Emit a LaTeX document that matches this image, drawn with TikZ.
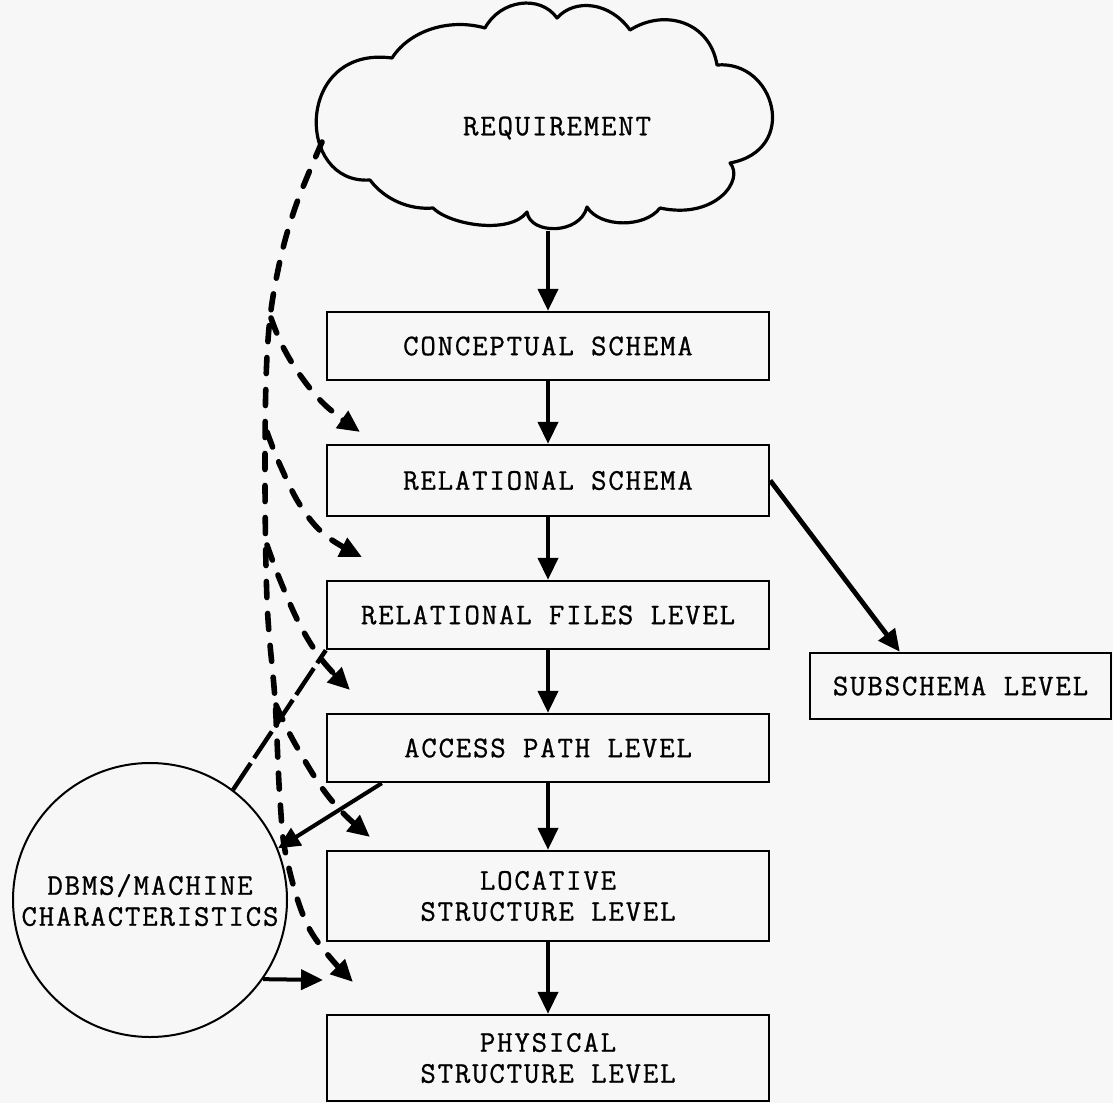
\documentclass[tikz,border=0pt]{standalone}
\usepackage{fontspec}
\newfontfamily\tw{Latin Modern Mono}[LetterSpace=6,FakeBold=0.8]
\usetikzlibrary{arrows.meta,calc}
\begin{document}
\begin{tikzpicture}[x=0.5pt,y=-0.5pt,
  txt/.style={font={\tw\fontsize{15pt}{15.5pt}\selectfont}},
  box/.style={txt,draw,line width=1.2pt,minimum width=221pt,inner sep=0pt,align=center},
  thk/.style={line width=2pt,-{Triangle[length=11pt,width=10pt]}},
  dsh/.style={line width=2.8pt,line cap=round,dash pattern=on 8pt off 8pt,-{Triangle[length=11pt,width=10pt]}},
]
\useasboundingbox (0,0) rectangle (1113,1103);
\fill[black!3] (0,0) rectangle (1113,1103);

% cloud
\draw[line width=1.6pt,line join=round]
 (392,58) .. controls (410,30) and (450,18) .. (485,28)
 .. controls (500,0) and (540,-6) .. (557,18)
 .. controls (575,-2) and (610,2) .. (630,30)
 .. controls (665,8) and (710,22) .. (717,65)
 .. controls (775,60) and (800,150) .. (730,163)
 .. controls (745,180) and (715,220) .. (660,208)
 .. controls (645,228) and (600,228) .. (587,207)
 .. controls (580,235) and (530,235) .. (527,212)
 .. controls (510,235) and (450,225) .. (433,208)
 .. controls (410,210) and (385,200) .. (370,180)
 .. controls (295,185) and (295,45) .. (392,58) -- cycle;
\node[txt] (req) at (557,128) {REQUIREMENT};
\coordinate (cloudbot) at (548,231);
\coordinate (cloudl) at (322,142);

% boxes
\node[box,minimum height=34pt] (conc) at (548,346) {CONCEPTUAL SCHEMA};
\node[box,minimum height=35.5pt] (rels) at (548,480.5) {RELATIONAL SCHEMA};
\node[box,minimum height=34pt] (relf) at (548,615) {RELATIONAL FILES LEVEL};
\node[box,minimum height=34pt] (acc) at (548,748) {ACCESS PATH LEVEL};
\node[box,minimum height=45pt] (loc) at (548,896) {LOCATIVE\\STRUCTURE LEVEL};
\node[box,minimum height=43pt] (phys) at (548,1058) {PHYSICAL\\STRUCTURE LEVEL};
\node[box,minimum width=150.5pt,minimum height=33pt] (sub) at (960.5,686) {SUBSCHEMA LEVEL};
\node[txt,draw,circle,line width=1pt,minimum size=137pt,inner sep=0pt,align=center] (dbms) at (150,900) {DBMS/MACHINE\\CHARACTERISTICS};

% vertical arrows
\draw[thk] (cloudbot) -- (conc.north);
\draw[thk] (conc) -- (rels);
\draw[thk] (rels) -- (relf);
\draw[thk] (relf) -- (acc);
\draw[thk] (acc) -- (loc);
\draw[thk] (loc) -- (phys);
\draw[line width=2.4pt,-{Triangle[length=11pt,width=10pt]}] (rels.east) -- ($(sub.north west)!0.3!(sub.north east)$);

% dashed tips
\coordinate (t1) at (360,432);
\coordinate (t2) at (362,557);
\coordinate (t3) at (350,690);
\coordinate (t4) at (370,837);
\coordinate (t5) at (353,982);
\coordinate (b1) at (271,318);
\coordinate (b2) at (267,432);
\coordinate (b3) at (267,545);
\coordinate (b4) at (276,705);
\coordinate (t6) at (323,980);

\draw[dsh] plot[smooth,tension=0.6] coordinates {(cloudl) (295,208) (278,270) (268,340) (265,450) (267,600) (275,700) (280,800) (287,860) (310,930) (t5)};
\draw[dsh] plot[smooth,tension=0.6] coordinates {(b1) (282,345) (300,375) (325,405) (t1)};
\draw[dsh] plot[smooth,tension=0.6] coordinates {(b2) (280,465) (300,505) (325,535) (t2)};
\draw[dsh] plot[smooth,tension=0.6] coordinates {(b3) (280,580) (300,625) (322,660) (t3)};
\draw[dsh] plot[smooth,tension=0.6] coordinates {(b4) (293,740) (320,785) (343,813) (t4)};

% circle connectors
\draw[line width=2.2pt,dash pattern=on 16pt off 3pt] (dbms.53) -- (relf.south west);
\draw[thk] ($(acc.south west)+(56,0)$) -- (dbms.22);
\draw[thk] (dbms.-35) -- (t6);
\end{tikzpicture}
\end{document}
